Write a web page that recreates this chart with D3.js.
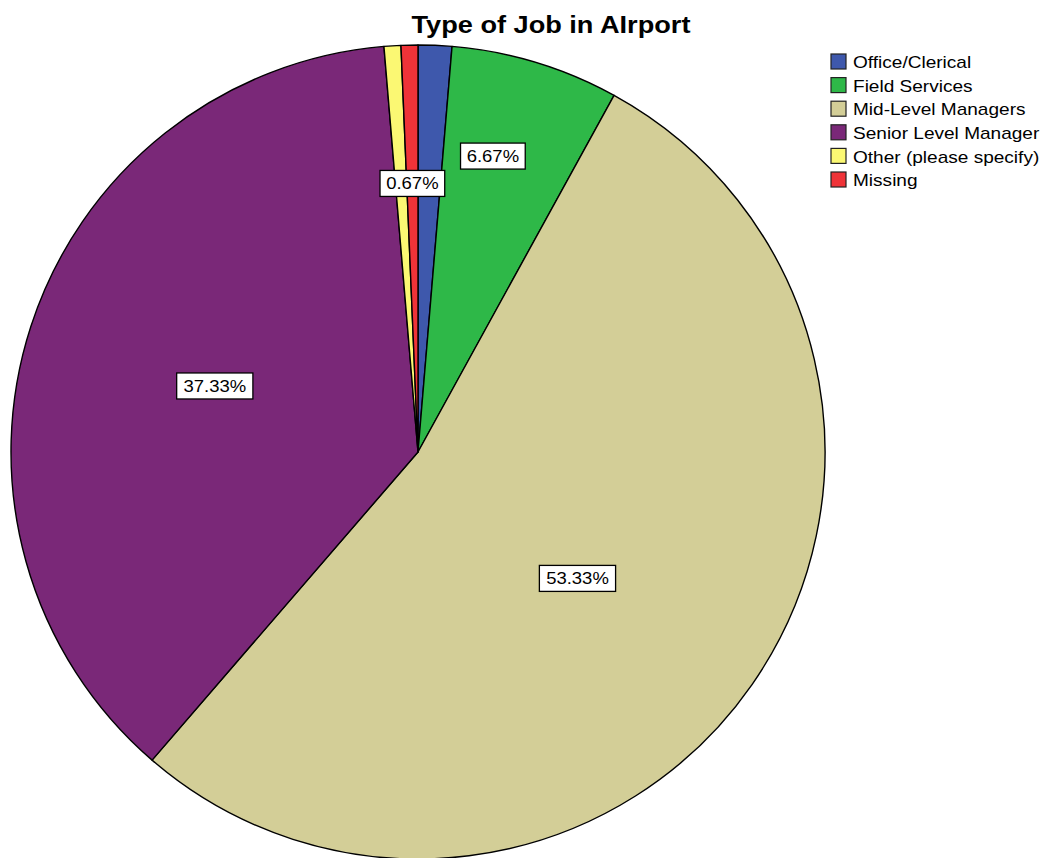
<!DOCTYPE html>
<html>
<head>
<meta charset="utf-8">
<script src="https://cdn.jsdelivr.net/npm/d3@7"></script>
<style>
  html, body { margin: 0; padding: 0; background: #fff; }
  svg { display: block; }
  text { font-family: "Liberation Sans", Arial, sans-serif; }
</style>
</head>
<body>
<svg id="chart" width="1049" height="858"></svg>
<script>
// Job type counts (n = 150), in drawing order clockwise from 12 o'clock
const categories = ["Office/Clerical", "Field Services", "Mid-Level Managers", "Senior Level Manager", "Other (please specify)", "Missing"];
const counts = [2, 10, 80, 56, 1, 1];
const colors = ["#3E58AC", "#2EB848", "#D3CE97", "#7A2878", "#FBF873", "#EF3338"];
// which slices carry a percentage label, how far out (fraction of radius) it sits,
// and a small angular nudge (degrees) away from the slice's mid angle
const showLabel = [false, true, true, true, false, true];
const labelRadius = [0.7, 0.75, 0.5, 0.525, 0.66, 0.66];
const labelNudge = [0, -2.6, 3.6, 0, 0, 0];

const title = "Type of Job in AIrport";

const svg = d3.select("#chart");
const cx = 418, cy = 452, R = 407;
const total = d3.sum(counts);
const data = categories.map((c, i) => ({
  name: c, value: counts[i], color: colors[i],
  show: showLabel[i], lr: labelRadius[i], nudge: labelNudge[i]
}));

const pie = d3.pie().value(d => d.value).sort(null);
const arcs = pie(data);
const arc = d3.arc().innerRadius(0).outerRadius(R);

const g = svg.append("g").attr("transform", `translate(${cx},${cy})`);
g.selectAll("path.slice")
  .data(arcs)
  .join("path")
  .attr("class", "slice")
  .attr("d", arc)
  .attr("fill", d => d.data.color)
  .attr("stroke", "#000")
  .attr("stroke-width", 1.4)
  .attr("stroke-linejoin", "round");

function widen(sel, k) {
  sel.each(function () {
    const w = this.getComputedTextLength();
    d3.select(this).attr("textLength", w * k).attr("lengthAdjust", "spacingAndGlyphs");
  });
}

// percentage labels in white boxes
const fmt = v => (v / total * 100).toFixed(2) + "%";
const labelStretch = 1.12;
const labels = g.selectAll("g.lbl")
  .data(arcs.filter(d => d.data.show))
  .join("g")
  .attr("class", "lbl")
  .attr("transform", d => {
    const a = (d.startAngle + d.endAngle) / 2 + d.data.nudge * Math.PI / 180;
    const r = R * d.data.lr;
    return `translate(${r * Math.sin(a)},${-r * Math.cos(a)})`;
  });
labels.append("rect");
labels.append("text")
  .attr("text-anchor", "middle")
  .attr("dy", "0.36em")
  .attr("font-size", 16.5)
  .attr("fill", "#000")
  .text(d => fmt(d.data.value))
  .call(widen, labelStretch);
labels.each(function () {
  const t = d3.select(this).select("text").node();
  const w = t.getComputedTextLength() * labelStretch;
  d3.select(this).select("rect")
    .attr("x", -w / 2 - 3).attr("y", -13)
    .attr("width", w + 6).attr("height", 26)
    .attr("fill", "#fff").attr("stroke", "#000").attr("stroke-width", 1.3);
});

// title
svg.append("text")
  .attr("x", 551).attr("y", 33)
  .attr("text-anchor", "middle")
  .attr("font-size", 23)
  .attr("font-weight", "bold")
  .attr("fill", "#000")
  .text(title)
  .call(widen, 1.18);

// legend
const legend = svg.append("g").attr("transform", "translate(831,54)");
const rowH = 23.6;
const items = legend.selectAll("g.item")
  .data(data)
  .join("g")
  .attr("class", "item")
  .attr("transform", (d, i) => `translate(0,${i * rowH})`);
items.append("rect")
  .attr("x", 0).attr("y", 0)
  .attr("width", 15).attr("height", 15)
  .attr("fill", d => d.color)
  .attr("stroke", "#222").attr("stroke-width", 1.2);
items.append("text")
  .attr("x", 22).attr("y", 8)
  .attr("dy", "0.36em")
  .attr("font-size", 17)
  .attr("fill", "#000")
  .text(d => d.name)
  .call(widen, 1.12);
</script>
</body>
</html>
